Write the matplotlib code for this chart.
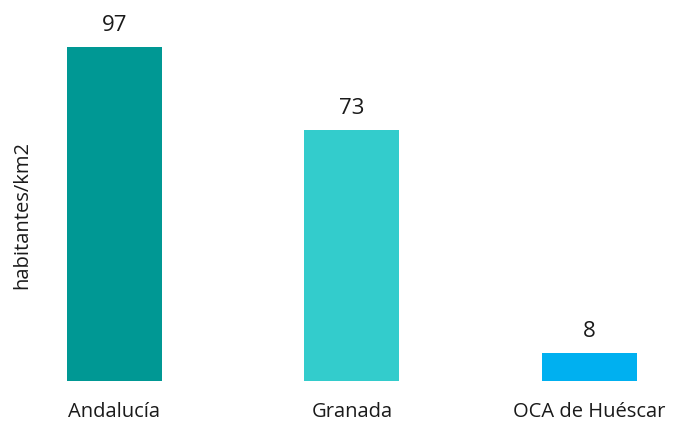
import matplotlib
matplotlib.use("Agg")
import matplotlib.pyplot as plt

# datos
categorias = ["Andalucía", "Granada", "OCA de Huéscar"]
densidad = [97, 73, 8]
colores = ["#009894", "#33CCCC", "#00B0F0"]

plt.rcParams['font.family'] = ['Open Sans', 'DejaVu Sans']

fig = plt.figure(figsize=(6.74, 4.25), dpi=100)
ax = fig.add_axes([0.0816, 0.1035, 0.881, 0.810])

x = range(len(categorias))
barras = ax.bar(x, densidad, width=0.4, color=colores)

for b, v in zip(barras, densidad):
    ax.annotate(str(v), (b.get_x() + b.get_width() / 2, v),
                xytext=(0, 8), textcoords="offset points",
                ha="center", va="bottom", fontsize=16, color="#1a1a1a")

ax.set_xlim(-0.25, 2.25)
ax.set_ylim(0, 100)
ax.set_xticks(list(x))
ax.set_xticklabels(categorias, fontsize=14.5, color="#1a1a1a")
ax.tick_params(axis="x", length=0, pad=15)
ax.set_yticks([])
for s in ax.spines.values():
    s.set_visible(False)

fig.text(22 / 674, 0.495, "habitantes/km2", rotation=90, ha="center", va="center",
         fontsize=14.5, color="#1a1a1a")

fig.savefig("out.png", dpi=100)
